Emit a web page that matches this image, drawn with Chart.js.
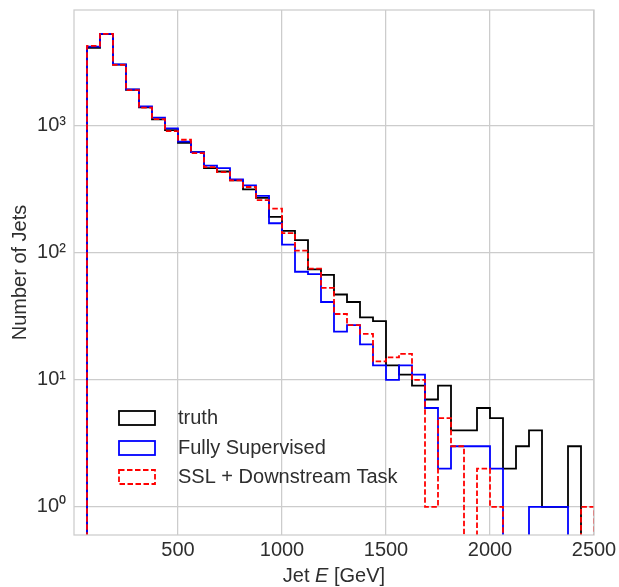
<!DOCTYPE html>
<html>
<head>
<meta charset="utf-8">
<script src="https://cdn.jsdelivr.net/npm/chart.js@4.4.0/dist/chart.umd.min.js"></script>
<style>
    html, body { margin: 0; padding: 0; background: #fff; }
    #wrap { width: 619px; height: 587px; }
</style>
</head>
<body>
<div id="wrap"><canvas id="jetChart" width="619" height="587"></canvas></div>
<script>
// Histogram bin left edges (GeV), bin width 62.5, last edge 2500
const binEdges = [62.5, 125, 187.5, 250, 312.5, 375, 437.5, 500, 562.5, 625,
    687.5, 750, 812.5, 875, 937.5, 1000, 1062.5, 1125, 1187.5, 1250,
    1312.5, 1375, 1437.5, 1500, 1562.5, 1625, 1687.5, 1750, 1812.5, 1875,
    1937.5, 2000, 2062.5, 2125, 2187.5, 2250, 2312.5, 2375, 2437.5, 2500];

// Counts per bin (39 bins)
const truthCounts = [4120, 5270, 3035, 1924, 1400, 1125, 925, 735, 620, 465,
    437, 372, 316, 271, 192, 149, 126, 74, 67, 47,
    41, 31, 29, 13, 11, 9, 7, 9, 4, 4,
    6, 5, 2, 3, 4, 1, 1, 3, 0];
const supervisedCounts = [4200, 5300, 3050, 1940, 1420, 1160, 955, 750, 620, 487,
    465, 378, 340, 281, 171, 116, 71, 68, 41, 24,
    27, 19, 13, 10, 13, 11, 6, 2, 3, 3,
    3, 2, 0, 0, 1, 1, 1, 0, 0];
const sslCounts = [4270, 5300, 3020, 1910, 1390, 1130, 910, 777, 609, 473,
    432, 372, 330, 260, 223, 143, 104, 75, 53, 33,
    27, 23, 14, 15, 16, 10, 1, 5, 3, 0,
    2, 1, 0, 0, 0, 0, 0, 0, 1];

const xTicks = [500, 1000, 1500, 2000, 2500];
const yTicks = [1, 10, 100, 1000];
const seriesLabels = ['truth', 'Fully Supervised', 'SSL + Downstream Task'];

const FONT = "'Liberation Sans', Arial, sans-serif";
const TEXT_COLOR = '#2e2e2e';
const GRID_COLOR = '#cccccc';
const FLOOR = 0.1; // empty bins drop below the axis

const SERIES_STYLE = [
    { color: '#000000', dash: [] },
    { color: '#0000ff', dash: [] },
    { color: '#ff0000', dash: [5.5, 2.5] }
];

/**
 * Turn counts into step outline points (histtype="step")
 */
function stepPoints(counts) {
    const pts = [{ x: binEdges[0], y: FLOOR }];
    counts.forEach((c, i) => {
        pts.push({ x: binEdges[i], y: c > 0 ? c : FLOOR });
    });
    const last = counts[counts.length - 1];
    pts.push({ x: binEdges[binEdges.length - 1], y: last > 0 ? last : FLOOR });
    pts.push({ x: binEdges[binEdges.length - 1], y: FLOOR });
    return pts;
}

function makeDataset(idx, counts) {
    return {
        label: seriesLabels[idx],
        data: stepPoints(counts),
        borderColor: SERIES_STYLE[idx].color,
        borderDash: SERIES_STYLE[idx].dash,
        borderWidth: 1.8,
        pointRadius: 0,
        stepped: true,
        fill: false,
        tension: 0
    };
}

const SUPERSCRIPT = { 0: '\u2070', 1: '\u00b9', 2: '\u00b2', 3: '\u00b3' };

// Frame, x-axis title with italic E, and legend
const decorPlugin = {
    id: 'decor',
    afterDraw(chart) {
        const ctx = chart.ctx;
        const area = chart.chartArea;
        ctx.save();
        ctx.strokeStyle = GRID_COLOR;
        ctx.lineWidth = 1.25;
        ctx.strokeRect(area.left, area.top, area.right - area.left, area.bottom - area.top);

        // x title
        ctx.fillStyle = TEXT_COLOR;
        ctx.textBaseline = 'middle';
        ctx.textAlign = 'left';
        const parts = [['Jet ', 'normal'], ['E', 'italic'], [' [GeV]', 'normal']];
        let total = 0;
        parts.forEach(p => {
            ctx.font = p[1] + ' 20px ' + FONT;
            total += ctx.measureText(p[0]).width;
        });
        let x = (area.left + area.right) / 2 - total / 2;
        parts.forEach(p => {
            ctx.font = p[1] + ' 20px ' + FONT;
            ctx.fillText(p[0], x, 576);
            x += ctx.measureText(p[0]).width;
        });

        // legend
        const rows = [418, 448, 477];
        ctx.font = '20px ' + FONT;
        seriesLabels.forEach((label, i) => {
            ctx.strokeStyle = SERIES_STYLE[i].color;
            ctx.lineWidth = 1.8;
            ctx.setLineDash(SERIES_STYLE[i].dash);
            ctx.strokeRect(119, rows[i] - 7, 36, 14);
            ctx.setLineDash([]);
            ctx.fillStyle = TEXT_COLOR;
            ctx.fillText(label, 178, rows[i]);
        });
        ctx.restore();
    }
};

new Chart(document.getElementById('jetChart'), {
    type: 'line',
    data: {
        datasets: [
            makeDataset(2, sslCounts),
            makeDataset(1, supervisedCounts),
            makeDataset(0, truthCounts)
        ]
    },
    options: {
        responsive: false,
        animation: false,
        events: [],
        layout: { padding: { top: 10, right: 25, bottom: 0, left: 0 } },
        scales: {
            x: {
                type: 'linear',
                min: 0,
                max: 2500,
                afterBuildTicks: scale => { scale.ticks = xTicks.map(v => ({ value: v })); },
                afterFit: scale => { scale.height = 52; scale.paddingLeft = 0; scale.paddingRight = 0; },
                grid: { color: GRID_COLOR, lineWidth: 1.25, drawTicks: false },
                border: { display: false },
                ticks: {
                    padding: 3,
                    color: TEXT_COLOR,
                    font: { family: FONT, size: 20 },
                    maxRotation: 0,
                    callback: v => String(v)
                }
            },
            y: {
                type: 'logarithmic',
                min: 0.62,
                max: 8170,
                afterBuildTicks: scale => { scale.ticks = yTicks.map(v => ({ value: v })); },
                afterFit: scale => { scale.width = 74; scale.paddingTop = 0; scale.paddingBottom = 0; },
                grid: { color: GRID_COLOR, lineWidth: 1.25, drawTicks: false },
                border: { display: false },
                ticks: {
                    padding: 8,
                    color: TEXT_COLOR,
                    font: { family: FONT, size: 20 },
                    callback: v => '10' + SUPERSCRIPT[Math.round(Math.log10(v))]
                },
                title: {
                    display: true,
                    text: 'Number of Jets',
                    color: TEXT_COLOR,
                    font: { family: FONT, size: 20 },
                    padding: { top: 8, bottom: 0 }
                }
            }
        },
        plugins: {
            legend: { display: false },
            tooltip: { enabled: false }
        }
    },
    plugins: [decorPlugin]
});
</script>
</body>
</html>
